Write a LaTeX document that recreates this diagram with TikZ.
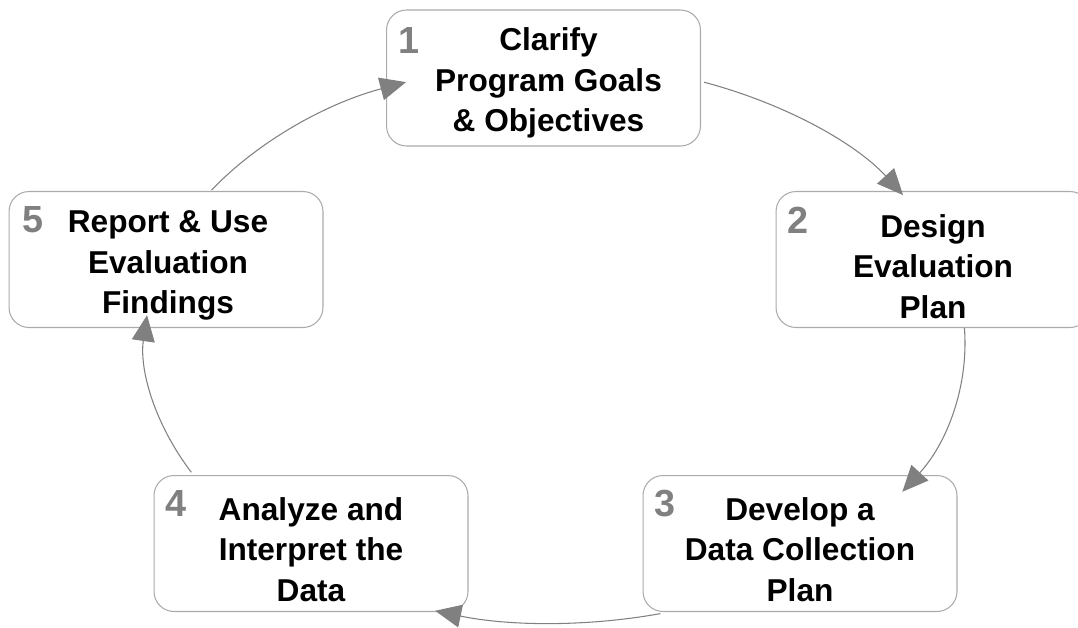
\documentclass[tikz,border=0pt]{standalone}
\usepackage{fontspec}
\setmainfont{Liberation Sans}
\usepackage{tikz}
\usetikzlibrary{arrows.meta}

\tikzset{
  stage/.style={draw=black!33, fill=white, line width=0.6pt, rounded corners=0.4cm,
    minimum width=6.28cm, minimum height=2.72cm},
  stagetext/.style={align=center, inner sep=0pt,
    font=\fontsize{18}{23.2}\selectfont\bfseries},
  stagenum/.style={text=black!50, inner sep=0pt, anchor=base west,
    font=\fontsize{21.5}{24}\selectfont\bfseries},
  cyclearrow/.style={draw=black!50, line width=0.6pt,
    -{Triangle[length=0.52cm, width=0.46cm]}}
}

\begin{document}
\begin{tikzpicture}[x=0.02cm, y=0.02cm]
    \useasboundingbox (0,0) rectangle (1078,-627);
    \clip (0,0) rectangle (1078,-627);
    \coordinate (hub) at (555,-343);

    \node[stage] (clarify) at (543.5,-78) {};
    \node[stage] (design) at (933,-259.5) {};
    \node[stage] (collect) at (800,-543.5) {};
    \node[stage] (analyze) at (311,-543.5) {};
    \node[stage] (report) at (166,-259.5) {};

    \node[stagetext] (clarify-t) at ([shift={(5,-5)}]clarify.center) {Clarify\\Program Goals\\\& Objectives};
    \node[stagetext] (design-t) at ([shift={(0,-7)}]design.center) {Design\\Evaluation\\Plan};
    \node[stagetext] (collect-t) at ([shift={(0,-6)}]collect.center) {Develop a\\Data Collection\\Plan};
    \node[stagetext] (analyze-t) at ([shift={(0,-6)}]analyze.center) {Analyze and\\Interpret the\\Data};
    \node[stagetext] (report-t) at ([shift={(2,-6)}]report.center) {Report \& Use\\Evaluation\\Findings};

    \node[stagenum] (n1) at ([shift={(12,-44)}]clarify.north west) {1};
    \node[stagenum] (n2) at ([shift={(12,-43)}]design.north west) {2};
    \node[stagenum] (n3) at ([shift={(12,-41)}]collect.north west) {3};
    \node[stagenum] (n4) at ([shift={(12,-41)}]analyze.north west) {4};
    \node[stagenum] (n5) at ([shift={(14,-42)}]report.north west) {5};

    % arcs of one ellipse round the hub, clockwise
    \draw[cyclearrow] (hub) ++(68.7:410 and 280) arc[start angle=68.7, end angle=31.9, x radius=410, y radius=280];
    \draw[cyclearrow] (hub) ++(3.1:410 and 280) arc[start angle=3.1, end angle=-32.1, x radius=410, y radius=280];
    \draw[cyclearrow] (hub) ++(-75.1:410 and 280) arc[start angle=-75.1, end angle=-107, x radius=410, y radius=280];
    \draw[cyclearrow] (hub) ++(-152.5:410 and 280) arc[start angle=-152.5, end angle=-185.7, x radius=410, y radius=280];
    \draw[cyclearrow] (hub) ++(146.9:410 and 280) arc[start angle=146.9, end angle=111.3, x radius=410, y radius=280];
  \end{tikzpicture}
\end{document}
